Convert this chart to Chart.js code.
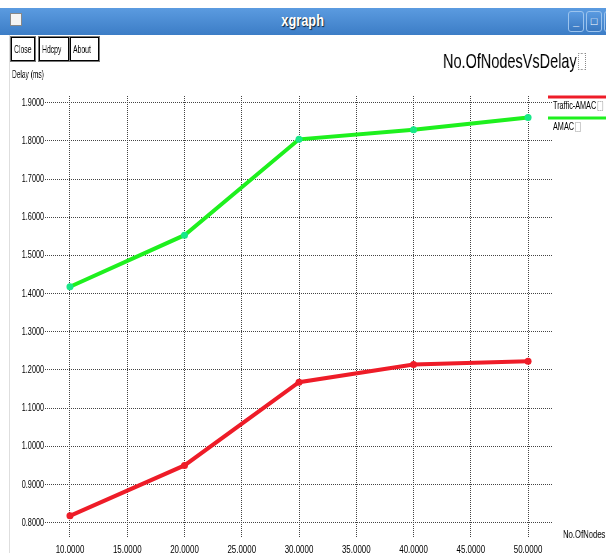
<!DOCTYPE html>
<html>
<head>
<meta charset="utf-8">
<script src="https://cdn.jsdelivr.net/npm/chart.js@4.4.0/dist/chart.umd.min.js"></script>
<style>
  body { margin: 0; width: 606px; height: 553px; overflow: hidden; background: #fff; position: relative; font-family: 'Liberation Sans', Arial, sans-serif; }
  #titlebar { position: absolute; left: 0; top: 8px; width: 606px; height: 27px; background: linear-gradient(#5b9be0, #3c7dc6); }
  #titlebar .name { position: absolute; left: 0; width: 606px; top: 4px; text-align: center; color: #fff; font: bold 16px 'Liberation Sans', sans-serif; text-shadow: 1px 1px 1px #123; }
  #titlebar .name span { display: inline-block; transform: scaleX(0.8); }
  #titlebar .icon { position: absolute; left: 10px; top: 5px; width: 10px; height: 11px; background: #f4f4f4; border: 1px solid #888; }
  .wb { position: absolute; top: 3px; width: 14px; height: 19px; border: 1px solid #9cc4ee; border-radius: 3px; background: linear-gradient(#5a9ae0, #3a78c0); color: #fff; font: bold 11px sans-serif; text-align: center; line-height: 19px; }
  #frame { position: absolute; left: 9px; top: 35px; width: 1px; height: 518px; background: #dedede; }
  .btn { position: absolute; top: 37px; height: 22px; border: 1px solid #000; outline: 1px solid #777; font-size: 11px; line-height: 22px; color: #000; overflow: hidden; }
  .btn span, .cond { display: inline-block; transform-origin: 0 50%; white-space: nowrap; will-change: transform; color: #000; }
  .btn span { transform: scaleX(0.62); margin-left: 2px; }
  #ytitle { position: absolute; left: 12px; top: 69px; font-size: 11px; line-height: 11px; }
  #ytitle .cond { transform: scaleX(0.6); }
  #title { position: absolute; left: 443px; top: 50px; font-size: 21px; line-height: 21px; white-space: nowrap; }
  #title .cond { transform: scaleX(0.69); }
  .box { display: inline-block; width: 9px; height: 15px; border: 1px dotted #888; margin-left: 2px; vertical-align: -2px; }
  #xtitle { position: absolute; left: 563px; top: 529px; font-size: 11px; line-height: 11px; white-space: nowrap; }
  #xtitle .cond { transform: scaleX(0.7); }
  canvas { position: absolute; left: 0; top: 0; }
</style>
</head>
<body>
<div id="titlebar">
  <div class="icon"></div>
  <div class="name"><span>xgraph</span></div>
  <div class="wb" style="left:568px">_</div>
  <div class="wb" style="left:586px">□</div>
  <div class="wb" style="left:604px">X</div>
</div>
<div id="frame"></div>
<div class="btn" style="left:11px;width:22px"><span>Close</span></div>
<div class="btn" style="left:39px;width:28px"><span>Hdcpy</span></div>
<div class="btn" style="left:70px;width:27px"><span>About</span></div>
<div id="ytitle"><span class="cond">Delay (ms)</span></div>
<div id="title"><span class="cond">No.OfNodesVsDelay<span class="box"></span></span></div>
<div id="xtitle"><span class="cond">No.OfNodes</span></div>
<canvas id="xgChart" width="606" height="553"></canvas>
<script>
// so nut mang
const nodes = [10, 20, 30, 40, 50];
// do tre (ms)
const trafficAmac = [0.818, 0.950, 1.168, 1.214, 1.223];
const amac = [1.418, 1.553, 1.804, 1.829, 1.861];
const seriesNames = ['Traffic-AMAC', 'AMAC'];
const xTicks = [10, 15, 20, 25, 30, 35, 40, 45, 50];
const yTicks = [0.8, 0.9, 1.0, 1.1, 1.2, 1.3, 1.4, 1.5, 1.6, 1.7, 1.8, 1.9];

// chu hep kieu font X11 cua xgraph
function condText(ctx, text, x, y, align, sx) {
  ctx.save();
  ctx.translate(x, y);
  ctx.scale(sx, 1);
  ctx.textAlign = align;
  ctx.textBaseline = 'middle';
  ctx.fillText(text, 0, 0);
  const w = ctx.measureText(text).width * sx;
  ctx.restore();
  return w;
}

// nhan truc ve tu ticks cua chart
const xgTickLabels = {
  id: 'xgTickLabels',
  afterDraw(chart) {
    const ctx = chart.ctx;
    ctx.save();
    ctx.fillStyle = '#000';
    ctx.font = "11px 'Liberation Sans', Arial, sans-serif";
    const ys = chart.scales.y;
    ys.ticks.forEach(function (t) {
      condText(ctx, t.value.toFixed(4), 44, ys.getPixelForValue(t.value), 'right', 0.66);
    });
    const xs = chart.scales.x;
    xs.ticks.forEach(function (t) {
      condText(ctx, t.value.toFixed(4), xs.getPixelForValue(t.value), 550, 'center', 0.72);
    });
    ctx.restore();
  }
};

// legend kieu xgraph: vach mau o tren, chu o duoi
const xgLegend = {
  id: 'xgLegend',
  afterDraw(chart) {
    const ctx = chart.ctx;
    chart.data.datasets.forEach(function (ds, i) {
      const y = 97 + i * 21;
      ctx.save();
      ctx.strokeStyle = ds.borderColor;
      ctx.lineWidth = 3;
      ctx.beginPath();
      ctx.moveTo(548, y);
      ctx.lineTo(606, y);
      ctx.stroke();
      ctx.fillStyle = '#000';
      ctx.font = "11px 'Liberation Sans', Arial, sans-serif";
      const w = condText(ctx, ds.label, 553, y + 9, 'left', 0.66);
      ctx.strokeStyle = '#999';
      ctx.lineWidth = 1;
      ctx.setLineDash([1, 1]);
      ctx.strokeRect(553 + w + 1.5, y + 4.5, 5, 9);
      ctx.restore();
    });
  }
};

const ctx = document.getElementById('xgChart').getContext('2d');
new Chart(ctx, {
  type: 'line',
  data: {
    datasets: [{
      label: seriesNames[0],
      data: nodes.map((n, i) => ({ x: n, y: trafficAmac[i] })),
      borderColor: '#ee1c28',
      backgroundColor: '#ee1c28',
      pointBackgroundColor: '#ee1c28',
      borderWidth: 4,
      pointRadius: 3.5,
      pointBorderWidth: 0,
      tension: 0
    }, {
      label: seriesNames[1],
      data: nodes.map((n, i) => ({ x: n, y: amac[i] })),
      borderColor: '#1ef01e',
      backgroundColor: '#1ef01e',
      pointBackgroundColor: '#18e888',
      borderWidth: 4,
      pointRadius: 3.5,
      pointBorderWidth: 0,
      tension: 0
    }]
  },
  options: {
    responsive: false,
    animation: false,
    layout: { padding: { top: 96, right: 54, bottom: 0, left: 0 } },
    plugins: {
      legend: { display: false },
      tooltip: { enabled: false }
    },
    scales: {
      x: {
        type: 'linear',
        min: 7.82,
        max: 52.09,
        afterBuildTicks: function (scale) {
          scale.ticks = xTicks.map(v => ({ value: v }));
        },
        afterFit: function (scale) { scale.height = 16; },
        ticks: { display: false },
        grid: { color: '#444', lineWidth: 1, drawTicks: false },
        border: { display: false, dash: [1, 1] }
      },
      y: {
        min: 0.7625,
        max: 1.9175,
        afterBuildTicks: function (scale) {
          scale.ticks = yTicks.map(v => ({ value: v }));
        },
        afterFit: function (scale) { scale.width = 45; },
        ticks: { display: false },
        grid: { color: '#444', lineWidth: 1, drawTicks: false },
        border: { display: false, dash: [1, 1] }
      }
    }
  },
  plugins: [xgTickLabels, xgLegend]
});
</script>
</body>
</html>
